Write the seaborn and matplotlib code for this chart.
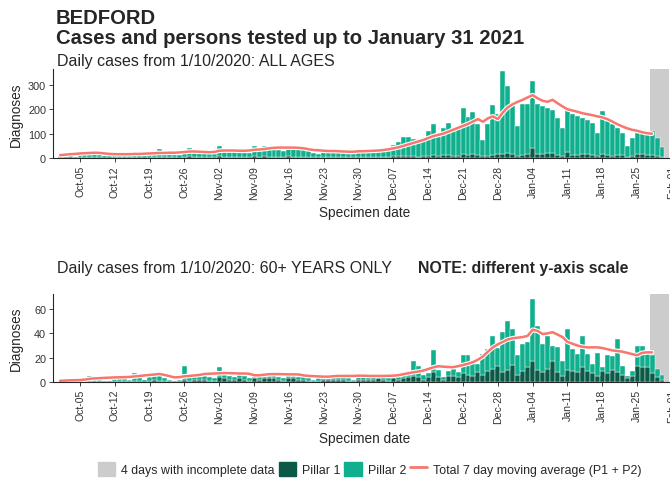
import numpy as np
import pandas as pd
import seaborn as sns
import matplotlib.pyplot as plt
import matplotlib.patheffects as pe
from matplotlib.patches import Patch
from matplotlib.lines import Line2D

# daily cases 1 Oct 2020 - 30 Jan 2021 (first row Thu-Sun, then Mon-Sun weeks)
all_total = [12, 14, 8, 6,
             20, 22, 18, 16, 15, 10, 8,
             18, 17, 16, 15, 14, 10, 9,
             20, 24, 37, 20, 18, 14, 12,
             30, 40, 28, 26, 25, 20, 16,
             48, 35, 32, 30, 28, 24, 20,
             48, 38, 50, 40, 36, 34, 30,
             42, 40, 38, 32, 28, 20, 18,
             32, 30, 28, 26, 24, 18, 16,
             28, 30, 32, 30, 34, 28, 30,
             53, 67, 85, 85, 80, 70, 72,
             113, 138, 88, 124, 145, 120, 125,
             206, 170, 188, 140, 74, 141, 217,
             179, 358, 295, 227, 131, 220, 220,
             315, 220, 213, 206, 199, 165, 124,
             210, 179, 172, 165, 158, 145, 104,
             193, 152, 138, 124, 104, 49, 83,
             104, 104, 104, 113, 81, 45]
all_p1 = [3, 4, 2, 1,
          4, 5, 4, 3, 3, 2, 2,
          4, 3, 4, 3, 3, 2, 2,
          5, 4, 6, 4, 4, 3, 2,
          6, 7, 5, 6, 5, 4, 3,
          8, 6, 6, 5, 6, 4, 3,
          7, 6, 7, 6, 6, 5, 4,
          7, 6, 6, 5, 5, 3, 3,
          6, 5, 5, 4, 4, 3, 3,
          5, 5, 6, 5, 6, 4, 4,
          8, 7, 9, 10, 8, 6, 7,
          10, 12, 9, 11, 13, 8, 9,
          16, 14, 15, 12, 7, 10, 14,
          15, 18, 20, 16, 10, 14, 15,
          42, 18, 16, 20, 22, 14, 10,
          24, 14, 13, 15, 18, 12, 8,
          16, 12, 10, 14, 12, 5, 8,
          18, 15, 12, 14, 8, 4]
# 7 day moving average, 1 Oct 2020 - 28 Jan 2021
all_avg = [12, 14, 16, 17,
           19, 20, 21, 22, 21, 19, 17,
           16, 16, 16, 16, 17, 17, 18,
           19, 20, 21, 21, 22, 22, 23,
           25, 27, 27, 26, 25, 24, 25,
           30, 31, 31, 31, 30, 30, 31,
           34, 35, 37, 40, 42, 43, 43,
           43, 43, 42, 40, 36, 33, 32,
           30, 29, 29, 28, 27, 26, 26,
           28, 28, 29, 30, 31, 33, 36,
           40, 44, 50, 56, 62, 68, 74,
           82, 90, 95, 100, 108, 116, 124,
           132, 140, 150, 160, 149, 163, 171,
           160, 187, 208, 221, 231, 239, 249,
           258, 245, 235, 231, 239, 225, 212,
           200, 195, 190, 184, 180, 176, 171,
           167, 160, 150, 139, 130, 122, 116,
           112, 106, 102, 100]

old_total = [1, 2, 1, 0,
             2, 1, 5, 3, 2, 1, 1,
             3, 4, 3, 2, 7, 6, 2,
             4, 5, 7, 3, 2, 1, 2,
             13, 4, 5, 6, 5, 4, 3,
             12, 6, 5, 4, 7, 5, 3,
             6, 5, 6, 5, 8, 4, 3,
             6, 5, 4, 6, 3, 2, 3,
             5, 4, 6, 5, 4, 3, 2,
             5, 6, 5, 4, 6, 4, 3,
             6, 5, 8, 9, 17, 13, 6,
             7, 26, 10, 4, 9, 11, 8,
             22, 22, 16, 15, 23, 27, 38,
             28, 41, 50, 44, 22, 31, 33,
             68, 46, 31, 38, 30, 29, 17,
             44, 27, 23, 38, 23, 15, 24,
             12, 22, 21, 35, 13, 5, 9,
             30, 30, 23, 22, 11, 6]
old_p1 = [0, 1, 0, 0,
          1, 0, 1, 1, 1, 0, 0,
          1, 1, 1, 1, 1, 1, 0,
          1, 2, 1, 1, 1, 0, 1,
          2, 1, 2, 2, 2, 1, 1,
          4, 3, 2, 2, 3, 2, 1,
          3, 2, 3, 3, 3, 2, 1,
          3, 3, 2, 2, 1, 1, 1,
          2, 2, 2, 2, 2, 1, 1,
          2, 2, 2, 2, 3, 2, 1,
          3, 2, 3, 4, 5, 4, 2,
          4, 8, 4, 2, 5, 5, 4,
          7, 6, 5, 8, 6, 9, 11,
          13, 8, 10, 14, 6, 9, 12,
          17, 10, 8, 11, 17, 8, 5,
          10, 9, 8, 12, 9, 7, 5,
          9, 7, 10, 8, 6, 3, 5,
          13, 12, 12, 7, 4, 2]
old_avg = [1.0, 1.2, 1.4, 1.5,
           1.6, 2.0, 2.6, 3.0, 3.2, 3.4, 3.6,
           3.8, 3.9, 4.0, 4.2, 4.6, 5.0, 5.4,
           5.8, 6.2, 6.6, 5.8, 4.8, 3.8, 4.0,
           4.7, 5.0, 5.4, 5.8, 6.6, 6.8, 7.0,
           7.2, 7.4, 7.3, 7.2, 7.0, 7.0, 6.8,
           5.6, 5.5, 6.0, 6.4, 6.5, 6.5, 6.4,
           6.3, 6.3, 6.2, 5.4, 5.0, 4.8, 4.6,
           4.4, 4.4, 4.8, 5.0, 5.0, 5.0, 5.0,
           5.2, 5.2, 5.0, 5.0, 5.0, 5.0, 5.1,
           5.2, 5.6, 6.4, 7.2, 8.0, 8.6, 9.4,
           10.7, 12.0, 13.0, 12.6, 12.4, 12.2, 13.0,
           14.0, 15.0, 16.4, 18.4, 21.0, 25.0, 28.5,
           31.0, 33.0, 35.0, 36.0, 36.5, 37.0, 38.0,
           43.0, 42.0, 39.5, 40.0, 41.0, 39.0, 37.0,
           33.0, 31.5, 30.0, 29.0, 28.5, 28.5, 28.5,
           28.0, 27.0, 26.0, 25.5, 25.0, 24.0, 23.0,
           22.0, 24.0, 24.4, 24.4]

start = pd.Timestamp("2020-10-01")
incomplete = (pd.Timestamp("2021-01-28"), pd.Timestamp("2021-01-31"))
week_ticks = pd.date_range("2020-10-05", "2021-02-01", freq="7D")

P1_COL = "#0b5a48"
P2_COL = "#10b08f"
RED = "#f8766d"
GREY = "#cccccc"

sns.set_style("ticks")
plt.rcParams["font.family"] = ["Liberation Sans", "DejaVu Sans"]


def panel(ax, total, p1, avg, ymax, yticks, xlab_y):
    n = len(total)
    day = np.arange(n)
    p2 = np.array(total) - np.array(p1)
    df = pd.DataFrame({
        "day": np.concatenate([day, day]),
        "cases": np.concatenate([p1, p2]),
        "pillar": ["Pillar 1"] * n + ["Pillar 2"] * n,
    })
    g0, g1 = [(d - start).days for d in incomplete]
    ax.axvspan(g0 - 0.5, g1 + 0.5, color=GREY, lw=0, zorder=0)
    sns.histplot(data=df, x="day", weights="cases", hue="pillar",
                 hue_order=["Pillar 2", "Pillar 1"], multiple="stack",
                 discrete=True, palette={"Pillar 1": P1_COL, "Pillar 2": P2_COL},
                 alpha=1, edgecolor="white", linewidth=0.3, legend=False, ax=ax)
    sns.lineplot(x=np.arange(len(avg)), y=avg, color=RED, lw=1.8, ax=ax,
                 path_effects=[pe.Stroke(linewidth=3.4, foreground="white"), pe.Normal()])

    ticks = [(d - start).days for d in week_ticks]
    ax.set_xticks(ticks)
    ax.set_xticklabels([d.strftime("%b-%d") for d in week_ticks], rotation=90,
                       fontsize=7.6, color="#333333")
    ax.set_yticks(yticks)
    ax.set_yticklabels([str(v) for v in yticks], fontsize=7.8, color="#333333")
    ax.tick_params(length=3, width=0.6, pad=2)
    ax.set_xlim(-1.43, 124.9)
    ax.set_ylim(0, ymax)
    ax.set_xlabel("Specimen date", fontsize=9.8)
    ax.set_ylabel("Diagnoses", fontsize=9.8)
    ax.xaxis.set_label_coords(0.496, xlab_y)
    ax.yaxis.set_label_coords(-0.048, 0.5)
    sns.despine(ax=ax)
    for s in ("left", "bottom"):
        ax.spines[s].set_linewidth(0.8)


fig = plt.figure(figsize=(6.7, 4.85), dpi=100)
ax1 = fig.add_axes([0.0791, 0.672, 0.9379, 0.1835])
ax2 = fig.add_axes([0.0791, 0.2103, 0.9379, 0.1814])

panel(ax1, all_total, all_p1, all_avg, 365, [0, 100, 200, 300], -0.53)
panel(ax2, old_total, old_p1, old_avg, 72.4, [0, 20, 40, 60], -0.56)

fig.text(0.0836, 1 - 24 / 485, "BEDFORD", fontsize=14.6, fontweight="bold", va="baseline")
fig.text(0.0836, 1 - 44 / 485, "Cases and persons tested up to January 31 2021",
         fontsize=14.6, fontweight="bold", va="baseline")
fig.text(57 / 670, 1 - 66 / 485, "Daily cases from 1/10/2020: ALL AGES", fontsize=11.5, va="baseline")
fig.text(57 / 670, 1 - 273 / 485, "Daily cases from 1/10/2020: 60+ YEARS ONLY",
         fontsize=11.5, va="baseline")
fig.text(418 / 670, 1 - 273 / 485, "NOTE: different y-axis scale", fontsize=11.4,
         fontweight="bold", va="baseline")

handles = [Patch(color=GREY), Patch(color=P1_COL), Patch(color=P2_COL),
           Line2D([], [], color=RED, lw=2)]
labels = ["4 days with incomplete data", "Pillar 1", "Pillar 2",
          "Total 7 day moving average (P1 + P2)"]
fig.legend(handles, labels, loc="center", bbox_to_anchor=(0.552, 1 - 470 / 485), ncol=4,
           frameon=False, fontsize=8.9, handlelength=1.4, handleheight=1.4,
           handletextpad=0.5, columnspacing=0.3)

fig.savefig("out.png", dpi=100)
